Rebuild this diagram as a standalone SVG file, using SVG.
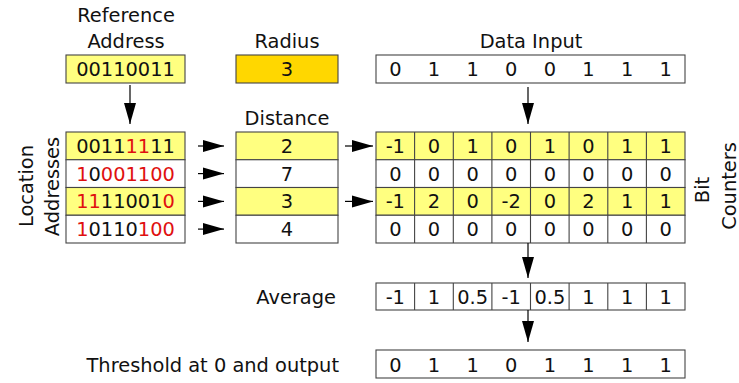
<svg xmlns="http://www.w3.org/2000/svg" width="739" height="383" viewBox="0 0 739 383">
  <style>
    text { font-family: "DejaVu Sans", Verdana, sans-serif; font-size: 19.4px; fill: #111; }
    .c { text-anchor: middle; }
    .e { text-anchor: end; }
    .r { fill: #e01010; }
    .box { stroke: #444; stroke-width: 1.1; fill: #fff; }
    .hl { fill: #ffff80; }
    .gold { fill: #ffd700; }
    .div { stroke: #444; stroke-width: 1.1; }
    .arr { stroke: #000; stroke-width: 1.2; fill: none; marker-end: url(#head); }
  </style>
  <defs>
    <marker id="head" markerUnits="userSpaceOnUse" markerWidth="21" markerHeight="13" refX="21" refY="6.5" orient="auto">
      <path d="M0,0.5 L21,6.5 L0,12.5 z" fill="#000"/>
    </marker>
  </defs>

  <rect width="739" height="383" fill="#fff"/>

  <!-- reference address -->
  <g id="reference-address">
    <text class="c" x="126" y="22">Reference</text>
    <text class="c" x="126" y="48">Address</text>
    <rect class="box hl" x="66" y="55" width="119" height="28"/>
    <text class="c" x="125.5" y="76">00110011</text>
  </g>

  <!-- radius -->
  <g id="radius">
    <text class="c" x="287" y="48">Radius</text>
    <rect class="box gold" x="236" y="55" width="102" height="28"/>
    <text class="c" x="287" y="76">3</text>
  </g>

  <!-- data input -->
  <g id="data-input">
    <text class="c" x="531" y="48">Data Input</text>
    <rect class="box" x="376" y="55" width="309" height="28"/>
    <text class="c" y="76">
      <tspan x="395.3">0</tspan><tspan x="433.9">1</tspan><tspan x="472.6">1</tspan><tspan x="511.2">0</tspan><tspan x="549.8">0</tspan><tspan x="588.4">1</tspan><tspan x="627.1">1</tspan><tspan x="665.7">1</tspan>
    </text>
  </g>

  <!-- location addresses -->
  <g id="location-addresses">
    <text class="c" transform="translate(33,186) rotate(-90)">Location</text>
    <text class="c" transform="translate(59,186.5) rotate(-90)">Addresses</text>
    <rect class="box hl" x="66" y="132" width="119" height="27.75"/>
    <rect class="box" x="66" y="159.75" width="119" height="27.75"/>
    <rect class="box hl" x="66" y="187.5" width="119" height="27.75"/>
    <rect class="box" x="66" y="215.25" width="119" height="27.75"/>
    <text class="c" x="125.5" y="153">0011<tspan class="r">11</tspan>11</text>
    <text class="c" x="125.5" y="180.7"><tspan class="r">1</tspan>0<tspan class="r">001100</tspan></text>
    <text class="c" x="125.5" y="208.4"><tspan class="r">11</tspan>11001<tspan class="r">0</tspan></text>
    <text class="c" x="125.5" y="236.1"><tspan class="r">1</tspan>0110<tspan class="r">100</tspan></text>
  </g>

  <!-- distances -->
  <g id="distance">
    <text class="c" x="287" y="125">Distance</text>
    <rect class="box hl" x="236" y="132" width="102" height="27.75"/>
    <rect class="box" x="236" y="159.75" width="102" height="27.75"/>
    <rect class="box hl" x="236" y="187.5" width="102" height="27.75"/>
    <rect class="box" x="236" y="215.25" width="102" height="27.75"/>
    <text class="c" x="287" y="153">2</text>
    <text class="c" x="287" y="180.7">7</text>
    <text class="c" x="287" y="208.4">3</text>
    <text class="c" x="287" y="236.1">4</text>
  </g>

  <!-- bit counters -->
  <g id="bit-counters">
    <rect class="box hl" x="376" y="132" width="309" height="27.75"/>
    <rect class="box" x="376" y="159.75" width="309" height="27.75"/>
    <rect class="box hl" x="376" y="187.5" width="309" height="27.75"/>
    <rect class="box" x="376" y="215.25" width="309" height="27.75"/>
    <path class="div" d="M414.6,132V243 M453.3,132V243 M491.9,132V243 M530.5,132V243 M569.1,132V243 M607.8,132V243 M646.4,132V243"/>
    <text class="c" y="153">
      <tspan x="395.3">-1</tspan><tspan x="433.9">0</tspan><tspan x="472.6">1</tspan><tspan x="511.2">0</tspan><tspan x="549.8">1</tspan><tspan x="588.4">0</tspan><tspan x="627.1">1</tspan><tspan x="665.7">1</tspan>
    </text>
    <text class="c" y="180.7">
      <tspan x="395.3">0</tspan><tspan x="433.9">0</tspan><tspan x="472.6">0</tspan><tspan x="511.2">0</tspan><tspan x="549.8">0</tspan><tspan x="588.4">0</tspan><tspan x="627.1">0</tspan><tspan x="665.7">0</tspan>
    </text>
    <text class="c" y="208.4">
      <tspan x="395.3">-1</tspan><tspan x="433.9">2</tspan><tspan x="472.6">0</tspan><tspan x="511.2">-2</tspan><tspan x="549.8">0</tspan><tspan x="588.4">2</tspan><tspan x="627.1">1</tspan><tspan x="665.7">1</tspan>
    </text>
    <text class="c" y="236.1">
      <tspan x="395.3">0</tspan><tspan x="433.9">0</tspan><tspan x="472.6">0</tspan><tspan x="511.2">0</tspan><tspan x="549.8">0</tspan><tspan x="588.4">0</tspan><tspan x="627.1">0</tspan><tspan x="665.7">0</tspan>
    </text>
    <text class="c" transform="translate(709,190) rotate(-90)">Bit</text>
    <text class="c" transform="translate(735.5,186) rotate(-90)">Counters</text>
  </g>

  <!-- average -->
  <g id="average">
    <text class="e" x="336" y="303.5">Average</text>
    <rect class="box" x="376" y="283" width="309" height="27"/>
    <path class="div" d="M414.6,283V310 M453.3,283V310 M491.9,283V310 M530.5,283V310 M569.1,283V310 M607.8,283V310 M646.4,283V310"/>
    <text class="c" y="303.5">
      <tspan x="395.3">-1</tspan><tspan x="433.9">1</tspan><tspan x="472.6">0.5</tspan><tspan x="511.2">-1</tspan><tspan x="549.8">0.5</tspan><tspan x="588.4">1</tspan><tspan x="627.1">1</tspan><tspan x="665.7">1</tspan>
    </text>
  </g>

  <!-- thresholded output -->
  <g id="output">
    <text class="e" x="339" y="371.5">Threshold at 0 and output</text>
    <rect class="box" x="376" y="350" width="309" height="28"/>
    <text class="c" y="371.5">
      <tspan x="395.3">0</tspan><tspan x="433.9">1</tspan><tspan x="472.6">1</tspan><tspan x="511.2">0</tspan><tspan x="549.8">1</tspan><tspan x="588.4">1</tspan><tspan x="627.1">1</tspan><tspan x="665.7">1</tspan>
    </text>
  </g>

  <!-- connectors -->
  <g id="connectors">
    <line class="arr" x1="130" y1="85" x2="130" y2="124"/>
    <line class="arr" x1="528" y1="87" x2="528" y2="124"/>
    <line class="arr" x1="198" y1="146" x2="224" y2="146"/>
    <line class="arr" x1="198" y1="173.6" x2="224" y2="173.6"/>
    <line class="arr" x1="198" y1="201.4" x2="224" y2="201.4"/>
    <line class="arr" x1="198" y1="229.1" x2="224" y2="229.1"/>
    <line class="arr" x1="345" y1="146" x2="373" y2="146"/>
    <line class="arr" x1="345" y1="201.4" x2="373" y2="201.4"/>
    <line class="arr" x1="528" y1="243" x2="528" y2="278"/>
    <line class="arr" x1="528" y1="310" x2="528" y2="342"/>
  </g>
</svg>
